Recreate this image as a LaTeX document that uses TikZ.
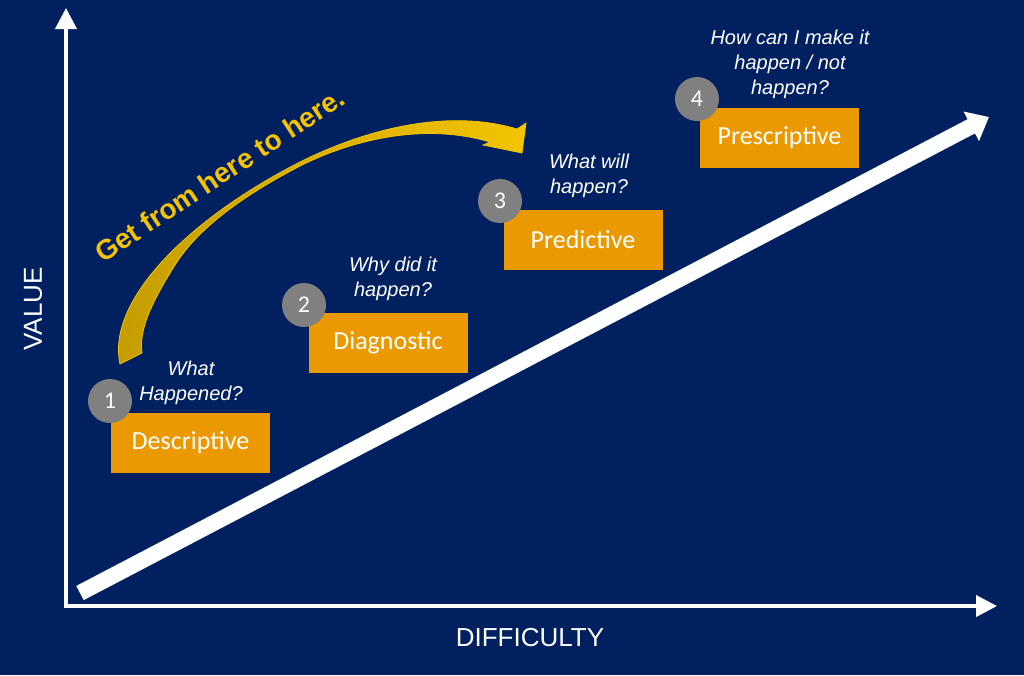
\documentclass[tikz,border=0pt]{standalone}
\usepackage{fontspec}
\setmainfont{Liberation Sans}
\newfontfamily\calfont{Carlito}
\usetikzlibrary{arrows.meta,decorations.text}
\definecolor{bgnavy}{HTML}{002060}
\definecolor{boxorange}{HTML}{EA9A00}
\definecolor{numgray}{HTML}{808080}
\definecolor{goldtext}{HTML}{F5C300}
\definecolor{arrowdark}{HTML}{C49C00}
\definecolor{arrowlight}{HTML}{F2C400}
\begin{document}
\begin{tikzpicture}[x=1pt,y=-1pt,
  stage/.style={fill=boxorange, minimum width=159pt, minimum height=60pt, inner sep=0pt, text=white, font=\calfont\fontsize{26}{30}\selectfont},
  num/.style={circle, fill=numgray, minimum size=44pt, inner sep=0pt, text=white, font=\calfont\fontsize{24}{28}\selectfont},
  question/.style={align=center, text=white, inner sep=0pt, font=\itshape\fontsize{20}{25}\selectfont},
  axislabel/.style={text=white, inner sep=0pt, font=\fontsize{26}{30}\selectfont}]
\fill[bgnavy] (0,0) rectangle (1024,675);
\useasboundingbox (0,0) rectangle (1024,675);

% axes
\coordinate (origin) at (66,606);
\coordinate (ytip) at (66,8);
\coordinate (xtip) at (997,606);
\draw[white, line width=4pt, {Triangle[width=21pt,length=21pt]}-{Triangle[width=21pt,length=21pt]}] (ytip) -- (origin) -- (xtip);

% diagonal arrow
\coordinate (dstart) at (80,593);
\coordinate (dtip) at (989,117);
\draw[white, line width=16pt, -{Triangle[width=32pt,length=20pt]}] (dstart) -- (dtip);

% boxes
\node[stage] (desc) at (190.5,443) {Descriptive};
\node[stage] (diag) at (388,343) {Diagnostic};
\node[stage] (pred) at (583,240) {Predictive};
\node[stage] (pres) at (779.5,137.5) {Prescriptive};

% numbers
\node[num] (n1) at (110,401) {1};
\node[num] (n2) at (304,305) {2};
\node[num] (n3) at (500,201) {3};
\node[num] (n4) at (697,99) {4};

% questions
\node[question] (q1) at (191,383) {What\\Happened?};
\node[question] (q2) at (393,279) {Why did it\\happen?};
\node[question] (q3) at (589,176) {What will\\happen?};
\node[question] (q4) at (790,64) {How can I make it\\happen / not\\happen?};

% axis labels
\node[axislabel, rotate=90] (vlabel) at (33,309) {VALUE};
\node[axislabel] (dlabel) at (530,638) {DIFFICULTY};

% curved yellow arrow
\fill[left color=arrowdark, right color=arrowlight, draw=arrowlight, line width=0.8pt]
 (120,364) .. controls (106,300) and (190,218) .. (300,162)
 .. controls (370,127) and (450,109) .. (517,129)
 -- (526,123) -- (522,153) -- (483,145) -- (490,142)
 .. controls (430,124) and (360,136) .. (300,166)
 .. controls (250,192) and (200,225) .. (175,265)
 .. controls (150,305) and (139,330) .. (142,353) -- cycle;

% curved text
\path[decorate, decoration={text along path, text align=left, text color=goldtext,
  text={|\bfseries\fontsize{28}{32}\selectfont|Get from here to here.}}]
  (103,264) .. controls (180,212) and (260,160) .. (370,88);
\end{tikzpicture}
\end{document}
